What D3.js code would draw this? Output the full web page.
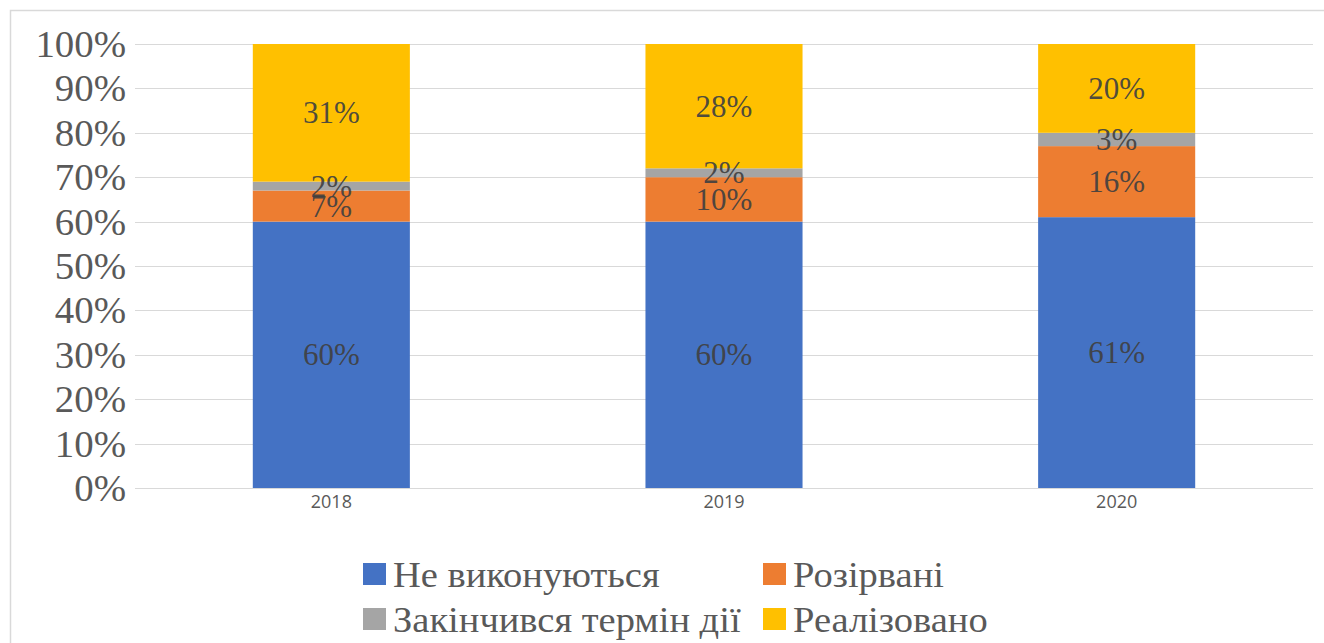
<!DOCTYPE html>
<html>
<head>
<meta charset="utf-8">
<script src="https://cdn.jsdelivr.net/npm/d3@7"></script>
<style>
  html, body { margin: 0; padding: 0; background: #fff; }
  svg { display: block; }
  .serif { font-family: "Liberation Serif", "Times New Roman", Tinos, "DejaVu Serif", serif; }
  .sans { font-family: "Open Sans", "Liberation Sans", sans-serif; }
</style>
</head>
<body>
<svg id="chart" width="1324" height="643"></svg>
<script>
const categories = ["2018", "2019", "2020"];
const seriesNames = ["Не виконуються", "Розірвані", "Закінчився термін дії", "Реалізовано"];
const notPerformed = [60, 60, 61];
const terminated = [7, 10, 16];
const expired = [2, 2, 3];
const implemented = [31, 28, 20];
const yTicks = [0, 10, 20, 30, 40, 50, 60, 70, 80, 90, 100];
const colors = ["#4472C4", "#ED7D31", "#A5A5A5", "#FFC000"];

const seriesValues = [notPerformed, terminated, expired, implemented];
const rows = categories.map((c, i) => {
  const r = { cat: c };
  seriesNames.forEach((s, j) => r[s] = seriesValues[j][i]);
  return r;
});

const svg = d3.select("#chart");
const W = 1324, H = 643;
const plot = { left: 135, right: 1313, top: 44, bottom: 488 };

svg.append("rect")
  .attr("x", 10.5).attr("y", 10.5)
  .attr("width", W).attr("height", H)
  .attr("fill", "#fff").attr("stroke", "#d9d9d9").attr("stroke-width", 1.5);

const x = d3.scaleBand().domain(categories)
  .range([plot.left, plot.right]).paddingInner(0.6).paddingOuter(0.3);
const y = d3.scaleLinear().domain([0, 100]).range([plot.bottom, plot.top]);

svg.append("g").selectAll("line").data(yTicks).join("line")
  .attr("x1", plot.left).attr("x2", plot.right)
  .attr("y1", d => Math.round(y(d)) + 0.5).attr("y2", d => Math.round(y(d)) + 0.5)
  .attr("stroke", "#d9d9d9").attr("stroke-width", 1);

const yAxis = d3.axisLeft(y).tickValues(yTicks).tickFormat(d => d + "%").tickSize(0).tickPadding(0);
const gy = svg.append("g").attr("transform", `translate(126,0)`).call(yAxis)
  .attr("font-family", null).attr("font-size", null);
gy.select(".domain").remove();
gy.selectAll("text")
  .attr("class", "serif")
  .style("font-size", "37px")
  .attr("fill", "#595959")
  .attr("dy", "0.34em")
  .attr("transform", "scale(1.05,1)");

const xAxis = d3.axisBottom(x).tickSize(0).tickPadding(0);
const gx = svg.append("g").attr("transform", `translate(0,${plot.bottom})`).call(xAxis)
  .attr("font-family", null).attr("font-size", null);
gx.select(".domain").remove();
gx.selectAll("text")
  .attr("class", "sans")
  .style("font-size", "18px")
  .attr("fill", "#595959")
  .attr("y", 20)
  .attr("dy", "0");

const stack = d3.stack().keys(seriesNames);
const stacked = stack(rows);

const layers = svg.append("g").selectAll("g").data(stacked).join("g")
  .attr("fill", (d, i) => colors[i]);

layers.selectAll("rect").data(d => d).join("rect")
  .attr("x", d => x(d.data.cat))
  .attr("width", x.bandwidth())
  .attr("y", d => y(d[1]))
  .attr("height", d => y(d[0]) - y(d[1]));

const labels = svg.append("g");
stacked.forEach((layer) => {
  labels.selectAll(null).data(layer).join("text")
    .attr("class", "serif")
    .attr("x", d => x(d.data.cat) + x.bandwidth() / 2)
    .attr("y", d => y((d[0] + d[1]) / 2))
    .attr("dy", "0.34em")
    .attr("text-anchor", "middle")
    .style("font-size", "31px")
    .attr("fill", "#404040")
    .attr("fill-opacity", 0.92)
    .text(d => Math.round(d[1] - d[0]) + "%");
});

const legendPos = [
  { x: 363, y: 574 }, { x: 763, y: 574 },
  { x: 363, y: 619 }, { x: 763, y: 619 }
];
const lg = svg.append("g");
seriesNames.forEach((name, i) => {
  const p = legendPos[i];
  lg.append("rect")
    .attr("x", p.x).attr("y", p.y - 11)
    .attr("width", 23).attr("height", 22)
    .attr("fill", colors[i]);
  lg.append("text")
    .attr("class", "serif")
    .attr("transform", `translate(${p.x + 30},${p.y}) scale(1.07,1)`)
    .attr("dy", "0.36em")
    .style("font-size", "36px")
    .attr("fill", "#595959")
    .text(name);
});
</script>
</body>
</html>
